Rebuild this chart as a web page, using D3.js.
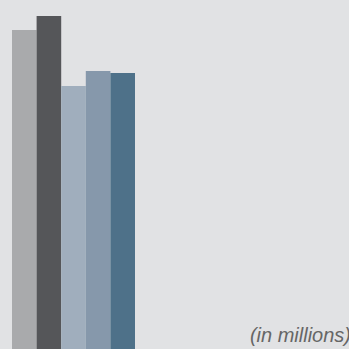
<!DOCTYPE html>
<html>
<head>
    <script src="https://d3js.org/d3.v7.min.js"></script>
    <style>
        body { margin: 0; background: #e1e2e4; }
    </style>
</head>
<body>
    <div id="chart"></div>
    <script>
        // values (relative heights)
        var categories = ["A", "B", "C", "D", "E"];
        var values = [319, 333, 263, 278, 276];
        var colors = ["#a9aaac", "#555659", "#a0aebd", "#8698ab", "#4e7189"];
        var unitLabel = "(in millions)";

        var width = 349,
            height = 349;

        var svg = d3.select("#chart")
            .append("svg")
            .attr("width", width)
            .attr("height", height);

        svg.append("rect")
            .attr("width", width)
            .attr("height", height)
            .attr("fill", "#e1e2e4");

        var x = d3.scaleBand()
            .domain(categories)
            .range([12, 135])
            .padding(0);

        var y = d3.scaleLinear()
            .domain([0, 349])
            .range([height, 0]);

        svg.append("g")
            .selectAll("rect")
            .data(values)
            .join("rect")
            .attr("x", function (d, i) { return x(categories[i]); })
            .attr("y", function (d) { return y(d); })
            .attr("width", x.bandwidth())
            .attr("height", function (d) { return height - y(d); })
            .attr("fill", function (d, i) { return colors[i]; });

        svg.append("text")
            .attr("x", 351)
            .attr("y", 342)
            .attr("text-anchor", "end")
            .style("font-family", "'Liberation Sans', Arial, sans-serif")
            .style("font-style", "italic")
            .style("font-size", "20px")
            .style("fill", "#666")
            .text(unitLabel);
    </script>
</body>
</html>
